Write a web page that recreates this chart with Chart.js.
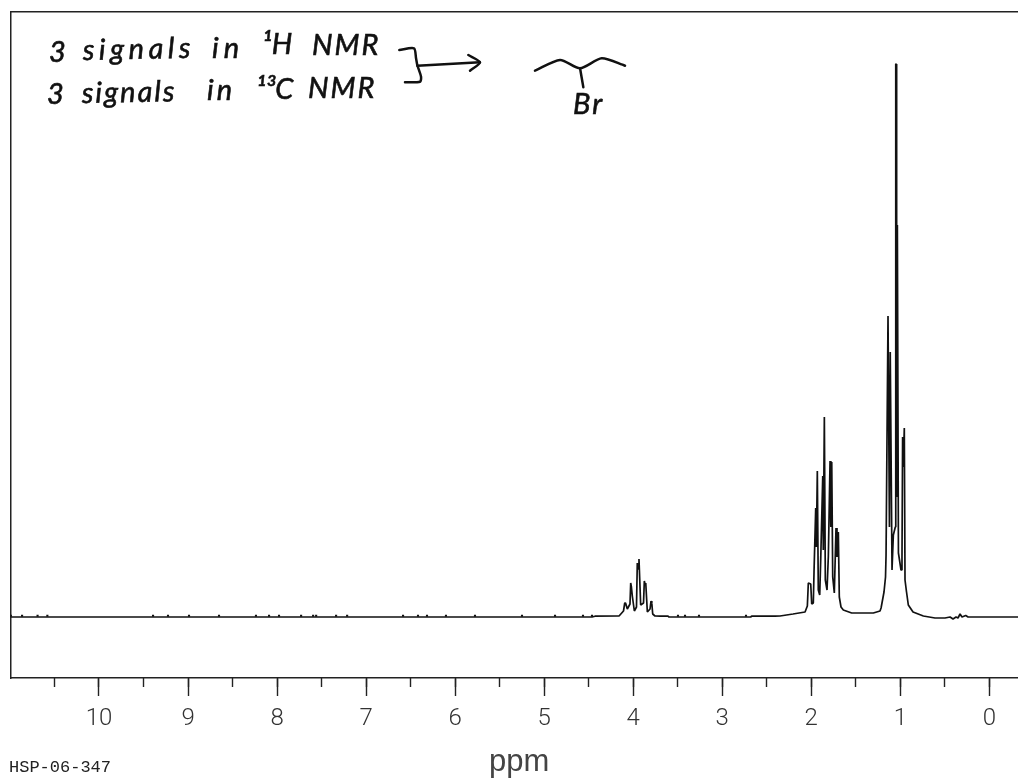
<!DOCTYPE html>
<html>
<head>
<meta charset="utf-8">
<script src="https://cdn.jsdelivr.net/npm/chart.js@4"></script>
<style>
  body { margin: 0; background: #fff; }
  #wrap { width: 1018px; height: 780px; }
</style>
</head>
<body>
<div id="wrap"><canvas id="espectro"></canvas></div>
<script>
// spectrum trace
const spectrumPpm = [
  10.994, 4.463, 4.429, 4.170, 4.159, 4.129, 4.109, 4.095, 4.086, 4.066, 4.036, 4.028, 4.020, 4.010,
  3.987, 3.963, 3.954, 3.946, 3.935, 3.916, 3.884, 3.875, 3.867, 3.859, 3.841, 3.811, 3.800, 3.791,
  3.781, 3.755, 3.699, 3.609, 3.598, 2.680, 2.670, 2.410, 2.351, 2.205, 2.070, 2.044, 2.033, 2.006,
  1.995, 1.977, 1.969, 1.950, 1.943, 1.932, 1.921, 1.905, 1.894, 1.871, 1.865, 1.853, 1.842, 1.823,
  1.808, 1.789, 1.780, 1.770, 1.759, 1.741, 1.722, 1.711, 1.696, 1.685, 1.666, 1.640, 1.546, 1.303,
  1.228, 1.216, 1.183, 1.166, 1.160, 1.138, 1.130, 1.122, 1.113, 1.106, 1.093, 1.078, 1.056, 1.051,
  1.046, 1.041, 1.033, 1.027, 1.021, 0.992, 0.981, 0.974, 0.967, 0.955, 0.947, 0.930, 0.910, 0.857,
  0.741, 0.610, 0.498, 0.441, 0.408, 0.374, 0.352, 0.329, 0.307, 0.265, 0.239, -0.322
];
const spectrumHeight = [
  0, 0, 0.8, 1, 1, 4, 6, 14, 14, 8, 13, 34, 30, 21,
  6, 10, 54, 48, 58, 12, 14, 36, 33, 34, 5, 8, 16, 14,
  3, 1, 0.8, 0.8, 0, 0, 0.8, 0.8, 1, 3, 5, 11, 34, 33,
  13, 14, 45, 109, 70, 146, 27, 22, 57, 141, 67, 200, 37, 27,
  61, 156, 90, 155, 40, 24, 89, 60, 85, 20, 10, 7, 4, 4,
  6, 9, 25, 40, 62, 301, 301, 90, 265, 265, 47, 82, 90, 553,
  553, 120, 392, 392, 64, 47, 60, 180, 150, 189, 37, 25, 12, 5,
  1, -1, -1, 0, -2, 0, -1, 3, 0, 1.5, 0, 0
];

// little noise dots sitting on the baseline
const specksPpm = [
  10.99, 10.864, 10.69, 10.58, 9.393, 9.225, 8.989, 8.652, 8.237, 8.09, 7.978, 7.73, 7.595, 7.561,
  7.337, 7.213, 6.585, 6.417, 6.316, 6.103, 5.777, 5.249, 4.878, 4.564, 4.463, 3.497, 3.418, 3.261, 2.733
];
const specksHeight = specksPpm.map(() => 1.2);

// hand drawn structure and arrow, in the same ppm / height units
const chainPpm = [5.103, 4.822, 4.597, 4.354, 4.092];
const chainHeight = [546.3, 557, 548.7, 558.7, 551.3];
const bondPpm = [4.597, 4.560];
const bondHeight = [548.7, 529.7];
const bracePpm = [6.627, 6.462, 6.439, 6.425, 6.383, 6.394, 6.563];
const braceHeight = [567, 568.7, 558.7, 552, 540.3, 535.3, 534.7];
const shaftPpm = [6.425, 5.721];
const shaftHeight = [551.3, 554.7];
const headPpm = [5.852, 5.721, 5.833];
const headHeight = [562, 554.7, 546.3];

const ppmMin = -0.322;
const ppmMax = 10.994;
const heightMin = -61;
const heightMax = 605.5;
const axisColor = '#222';

function pares(xs, ys) {
  return xs.map((x, i) => ({ x: x, y: ys[i] }));
}

function tracoMao(xs, ys) {
  return {
    data: pares(xs, ys),
    borderColor: '#111',
    borderWidth: 2.5,
    pointRadius: 0,
    tension: 0.25,
    borderCapStyle: 'round',
    borderJoinStyle: 'round'
  };
}

// free text on the page: handwriting and the labels under the axis
const hand = 'italic 29px Lato';
const notes = [
  { text: '3', x: 49, y: 62, font: hand, heavy: true },
  { text: 'signals', x: 83, y: 60, font: hand, spacing: '4.5px', rot: -0.02, heavy: true },
  { text: 'in', x: 212, y: 58, font: hand, spacing: '5px', heavy: true },
  { text: '¹H', x: 262, y: 54, font: hand, heavy: true },
  { text: 'NMR', x: 312, y: 55, font: hand, spacing: '2px', heavy: true },
  { text: '3', x: 47, y: 104, font: hand, heavy: true },
  { text: 'signals', x: 82, y: 103, font: hand, spacing: '2px', rot: -0.02, heavy: true },
  { text: 'in', x: 207, y: 100, font: hand, spacing: '3px', heavy: true },
  { text: '¹³C', x: 256, y: 99, font: hand, heavy: true },
  { text: 'NMR', x: 308, y: 98, font: hand, spacing: '2px', heavy: true },
  { text: 'Br', x: 573, y: 114, font: hand, spacing: '2px', heavy: true },
  { text: 'ppm', x: 489, y: 771, font: '31px "Liberation Sans"', color: '#444' },
  { text: 'HSP-06-347', x: 9, y: 772, font: '17px "Liberation Mono"', color: '#222' }
];

const notasPlugin = {
  id: 'notas',
  afterDraw(chart) {
    const ctx = chart.ctx;
    notes.forEach(n => {
      ctx.save();
      ctx.translate(n.x, n.y);
      if (n.rot) ctx.rotate(n.rot);
      ctx.font = n.font;
      ctx.fillStyle = n.color || '#111';
      ctx.strokeStyle = ctx.fillStyle;
      ctx.lineWidth = 0.6;
      ctx.letterSpacing = n.spacing || '0px';
      ctx.textAlign = 'left';
      ctx.textBaseline = 'alphabetic';
      ctx.fillText(n.text, 0, 0);
      if (n.heavy) ctx.strokeText(n.text, 0, 0);
      ctx.restore();
    });
  }
};

new Chart(document.getElementById('espectro').getContext('2d'), {
  type: 'line',
  data: {
    datasets: [
      {
        data: pares(spectrumPpm, spectrumHeight),
        borderColor: '#111',
        borderWidth: 1.7,
        pointRadius: 0,
        tension: 0,
        borderJoinStyle: 'bevel'
      },
      {
        data: pares(specksPpm, specksHeight),
        showLine: false,
        pointStyle: 'rect',
        pointRadius: 1.5,
        pointBorderWidth: 0,
        pointBackgroundColor: '#111'
      },
      tracoMao(chainPpm, chainHeight),
      tracoMao(bondPpm, bondHeight),
      tracoMao(bracePpm, braceHeight),
      tracoMao(shaftPpm, shaftHeight),
      tracoMao(headPpm, headHeight)
    ]
  },
  plugins: [notasPlugin],
  options: {
    responsive: true,
    maintainAspectRatio: false,
    animation: false,
    layout: { autoPadding: false, padding: { left: 10.5, top: 11.5, right: 0, bottom: 0 } },
    plugins: {
      legend: { display: false },
      tooltip: { enabled: false }
    },
    scales: {
      x: {
        type: 'linear',
        position: 'bottom',
        reverse: true,
        min: ppmMin,
        max: ppmMax,
        afterFit(scale) { scale.height = 102; },
        border: { display: true, color: axisColor, width: 1.5 },
        grid: {
          drawOnChartArea: false,
          drawTicks: true,
          tickLength: 18,
          tickWidth: 1.4,
          tickColor: axisColor
        },
        ticks: {
          stepSize: 1,
          includeBounds: false,
          autoSkip: false,
          maxRotation: 0,
          padding: 9,
          color: '#333',
          font: { family: 'Roboto', size: 24, weight: '300' }
        }
      },
      // half ppm ticks, shorter
      xMinor: {
        type: 'linear',
        position: { y: heightMin },
        axis: 'x',
        reverse: true,
        min: ppmMin,
        max: ppmMax,
        border: { display: false },
        grid: {
          drawOnChartArea: false,
          drawTicks: true,
          tickLength: 9,
          tickWidth: 1.4,
          tickColor: axisColor
        },
        ticks: { display: false, stepSize: 0.5, includeBounds: false, autoSkip: false }
      },
      // only there for the top line of the frame
      xTop: {
        type: 'linear',
        position: 'top',
        axis: 'x',
        min: ppmMin,
        max: ppmMax,
        afterFit(scale) { scale.height = 0; },
        border: { display: true, color: axisColor, width: 1.5 },
        grid: { display: false },
        ticks: { display: false }
      },
      y: {
        type: 'linear',
        position: 'left',
        min: heightMin,
        max: heightMax,
        afterFit(scale) { scale.width = 0; },
        border: { display: true, color: axisColor, width: 1.5 },
        grid: { display: false },
        ticks: { display: false }
      }
    }
  }
});
</script>
</body>
</html>
